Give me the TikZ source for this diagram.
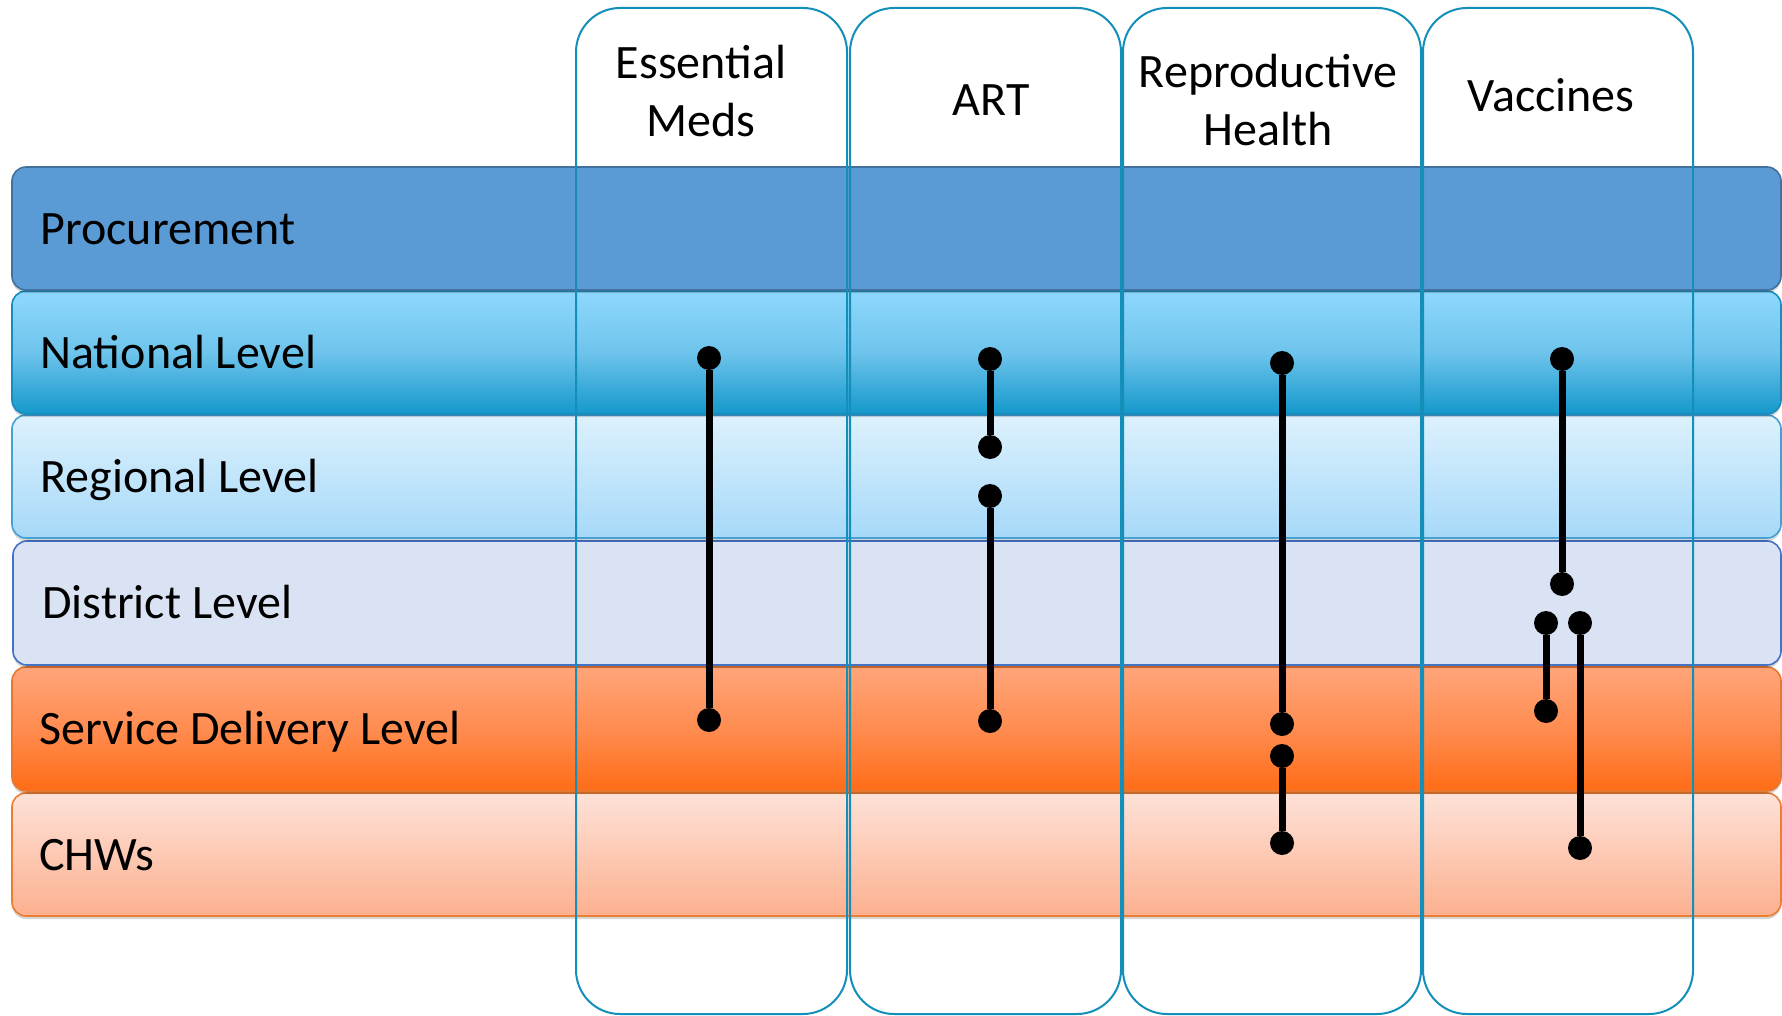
\documentclass[tikz,border=0pt]{standalone}
\usepackage{fontspec}
\setmainfont{Carlito}
\definecolor{procfill}{RGB}{91,155,213}
\definecolor{procline}{RGB}{65,113,156}
\definecolor{nattop}{RGB}{143,216,253}
\definecolor{natmid}{RGB}{110,196,236}
\definecolor{natbot}{RGB}{20,152,203}
\definecolor{natline}{RGB}{24,140,190}
\definecolor{regtop}{RGB}{221,241,253}
\definecolor{regbot}{RGB}{166,217,248}
\definecolor{regline}{RGB}{70,160,210}
\definecolor{distfill}{RGB}{218,227,243}
\definecolor{distline}{RGB}{68,114,196}
\definecolor{svctop}{RGB}{255,165,122}
\definecolor{svcmid}{RGB}{255,140,80}
\definecolor{svcbot}{RGB}{255,108,22}
\definecolor{svcline}{RGB}{230,120,50}
\definecolor{chwtop}{RGB}{253,226,216}
\definecolor{chwbot}{RGB}{252,176,143}
\definecolor{chwline}{RGB}{237,125,49}
\definecolor{colline}{RGB}{20,143,186}
\tikzset{
  band/.style={rounded corners=7pt, line width=0.8pt},
  bandshadow/.style={fill=black, opacity=0.16, rounded corners=7pt},
  column/.style={draw=colline, line width=1pt, rounded corners=22pt},
  txt/.style={font=\fontsize{24}{29}\selectfont, text=black, inner sep=0pt},
  rowlabel/.style={txt, anchor=west, text height=15.6pt, text depth=0pt},
  header/.style={txt, align=center, anchor=center},
  dot/.style={circle, fill=black, inner sep=0pt, minimum size=12pt},
  link/.style={line width=3.5pt, draw=black}
}
\begin{document}
\begin{tikzpicture}[x=0.5pt,y=-0.5pt]
\useasboundingbox (0,0) rectangle (1782,1016);
\fill[white] (0,0) rectangle (1782,1016);

% level bands, lowest first so each shadow falls on the band below it
\fill[bandshadow] (12,796) rectangle (1781,919);
\draw[band, draw=chwline, top color=chwtop, bottom color=chwbot] (12,793) rectangle (1781,916);
\fill[bandshadow] (12,670) rectangle (1781,794);
\draw[band, draw=svcline, top color=svctop, bottom color=svcbot, middle color=svcmid] (12,667) rectangle (1781,791);
\fill[bandshadow] (13,544) rectangle (1781,668);
\draw[band, draw=distline, fill=distfill] (13,541) rectangle (1781,665);
\fill[bandshadow] (12,418) rectangle (1781,541);
\draw[band, draw=regline, top color=regtop, bottom color=regbot] (12,415) rectangle (1781,538);
\fill[bandshadow] (12,294) rectangle (1781,417);
\draw[band, draw=natline, top color=nattop, bottom color=natbot, middle color=natmid] (12,291) rectangle (1781,414);
\fill[bandshadow] (12,170) rectangle (1781,293);
\draw[band, draw=procline, fill=procfill] (12,167) rectangle (1781,290);

% product columns
\draw[column] (576,1014) -- (576,8) -- (847,8) -- (847,1014) -- cycle;
\draw[column] (850,1014) -- (850,8) -- (1121,8) -- (1121,1014) -- cycle;
\draw[column] (1123,1014) -- (1123,8) -- (1421,8) -- (1421,1014) -- cycle;
\draw[column] (1423,1014) -- (1423,8) -- (1693,8) -- (1693,1014) -- cycle;

% column headers
\node[header] (hem)  at (701,91)  {Essential\\Meds};
\node[header] (hart) at (991,100) {ART};
\node[header] (hrh)  at (1268,100) {Reproductive\\Health};
\node[header] (hvac) at (1551,95) {Vaccines};

% level labels
\node[rowlabel] (lproc) at (40,228.5) {Procurement};
\node[rowlabel] (lnat)  at (40,352.5) {National Level};
\node[rowlabel] (lreg)  at (40,476.5) {Regional Level};
\node[rowlabel] (ldist) at (42,603)   {District Level};
\node[rowlabel] (lsvc)  at (39,729)   {Service Delivery Level};
\node[rowlabel] (lchw)  at (39,854.5) {CHWs};

% distribution paths
\node[dot] (em1) at (709,358) {};
\node[dot] (em2) at (709,720) {};
\draw[link] (em1) -- (em2);

\node[dot] (art1) at (990,359) {};
\node[dot] (art2) at (990,447) {};
\node[dot] (art3) at (990,496) {};
\node[dot] (art4) at (990,721) {};
\draw[link] (art1) -- (art2);
\draw[link] (art3) -- (art4);

\node[dot] (rh1) at (1282,363) {};
\node[dot] (rh2) at (1282,724) {};
\node[dot] (rh3) at (1282,756) {};
\node[dot] (rh4) at (1282,843) {};
\draw[link] (rh1) -- (rh2);
\draw[link] (rh3) -- (rh4);

\node[dot] (vac1) at (1562,359) {};
\node[dot] (vac2) at (1562,584) {};
\node[dot] (vac3) at (1546,623) {};
\node[dot] (vac4) at (1546,711) {};
\node[dot] (vac5) at (1580,623) {};
\node[dot] (vac6) at (1580,848) {};
\draw[link] (vac1) -- (vac2);
\draw[link] (vac3) -- (vac4);
\draw[link] (vac5) -- (vac6);
\end{tikzpicture}
\end{document}
